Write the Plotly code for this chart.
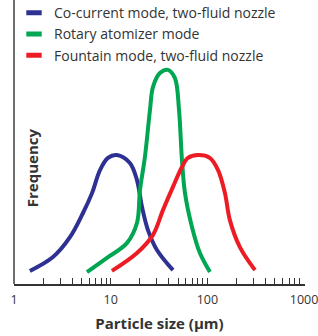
import plotly.graph_objects as go

# Particle size (µm) and relative frequency for each atomization mode
series_names = ["Co-current mode, two-fluid nozzle", "Rotary atomizer mode", "Fountain mode, two-fluid nozzle"]
colors = ["#2E3192", "#00A651", "#ED1C24"]

blue_x = [1.46, 2.53, 3.79, 5.17, 6.41, 7.75, 9.37, 11.6, 15.8, 18.7, 21.1, 24.3, 30.1, 44.1]
blue_y = [4.6, 9.5, 16.5, 25.0, 32.0, 40.1, 44.4, 45.4, 42.6, 36.6, 27.1, 19.0, 12.0, 4.9]

green_x = [5.69, 9.16, 14.7, 18.7, 20.1, 22.6, 25.5, 27.4, 32.3, 39.1, 46.2, 50.9, 54.6, 58.7, 69.3, 83.8, 106.4]
green_y = [4.2, 9.2, 14.4, 21.5, 33.1, 44.7, 61.3, 69.4, 74.3, 75.4, 72.5, 61.3, 43.7, 32.0, 20.1, 10.9, 4.2]

red_x = [10.3, 18.7, 27.4, 34.8, 44.1, 54.6, 63.0, 80.0, 106.0, 129.0, 152.0, 171.0, 217.0, 311.0]
red_y = [4.6, 10.9, 17.3, 26.1, 34.2, 41.2, 44.4, 45.4, 44.4, 40.1, 32.0, 22.5, 13.0, 4.9]

tick_vals = [1, 2, 3, 4, 5, 6, 7, 8, 9,
             10, 20, 30, 40, 50, 60, 70, 80, 90,
             100, 200, 300, 400, 500, 600, 700, 800, 900, 1000]
tick_text = ["1"] + [""] * 8 + ["10"] + [""] * 8 + ["100"] + [""] * 8 + ["1000"]

x_title = "Particle size (μm)"
y_title = "Frequency"

FONT = "Open Sans"
TXT = "#333333"

fig = go.Figure()
for name, xs, ys, c in zip(series_names, [blue_x, green_x, red_x], [blue_y, green_y, red_y], colors):
    fig.add_trace(go.Scatter(x=xs, y=ys, mode="lines", line=dict(color=c, width=4, shape="spline", smoothing=1.0),
                             showlegend=False, hoverinfo="skip"))
for i, (name, c) in enumerate(zip(series_names, colors)):
    fig.add_trace(go.Scatter(x=[None], y=[None], mode="markers", name=name, legendgroup=str(i),
                             marker=dict(symbol="line-ew", size=11, color=c, line=dict(color=c, width=6))))

fig.update_layout(
    width=318, height=336,
    margin=dict(l=14, r=13, t=0, b=52, autoexpand=False),
    paper_bgcolor="white", plot_bgcolor="white",
    font=dict(family=FONT, size=13, color=TXT),
    showlegend=True,
    legend=dict(x=0.0, y=1.01, xanchor="left", yanchor="top",
                bgcolor="rgba(0,0,0,0)", font=dict(size=14, color=TXT), tracegroupgap=0,
                itemsizing="trace"),
    xaxis=dict(type="log", range=[0, 3.01], showline=True, linecolor="#333333", linewidth=2,
               ticks="inside", ticklen=6, tickwidth=1, tickcolor="#333333",
               tickvals=tick_vals, ticktext=tick_text, showgrid=False, zeroline=False,
               tickfont=dict(size=12.5, color=TXT), automargin=False, ticklabelstandoff=3,
               ticklabeloverflow="allow",
               title=dict(text="<b>" + x_title + "</b>", font=dict(size=15, color=TXT), standoff=11)),
    yaxis=dict(range=[0, 100], showline=False, showticklabels=False, ticks="", showgrid=False,
               zeroline=False, automargin=False),
    shapes=[dict(type="line", xref="paper", yref="paper", x0=0, x1=0, y0=0, y1=1,
                 line=dict(color="#6d6d6d", width=2))],
    annotations=[dict(text="<b>" + y_title + "</b>", xref="paper", yref="paper", x=0.062, y=0.408,
                      xanchor="center", yanchor="middle",
                      textangle=-90, showarrow=False, font=dict(size=15, color=TXT))],
)

fig.write_html("out.html", config={"displayModeBar": False},
               post_script="document.body.style.margin='0';document.body.style.overflow='hidden';")
